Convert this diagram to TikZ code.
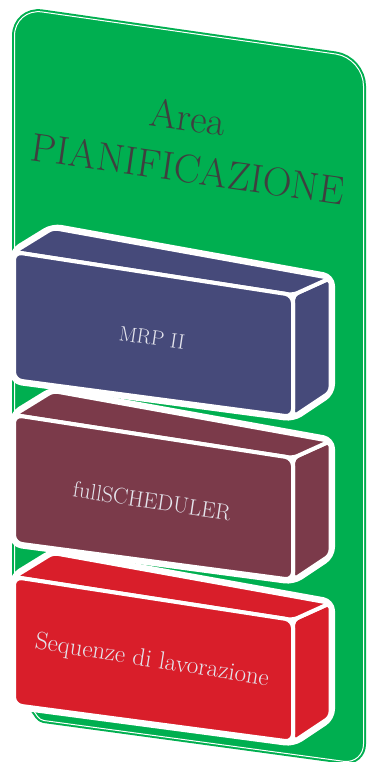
\documentclass[tikz,border=0pt]{standalone}
\definecolor{pgreen}{HTML}{00AF50}
\definecolor{pblue}{HTML}{464A7A}
\definecolor{pmaroon}{HTML}{7B3A4A}
\definecolor{pred}{HTML}{D91E2A}
\definecolor{ptext}{HTML}{3F3F3F}
\definecolor{plabel}{HTML}{E4E4EC}
\tikzset{
  blockface/.style={line width=4pt, draw=white, rounded corners=5pt, line join=round},
  blockhalo/.style={line width=9pt, draw=white, fill=white, rounded corners=8pt, line join=round},
  titletext/.style={text=ptext, inner sep=0pt},
  blocktext/.style={text=plabel, inner sep=0pt}
}
\newcommand\drawblock[2]{%
  \path[blockhalo] (14,#1) -- (53,#1-24) -- (330.5,#1+26) -- (330.5,#1+140) -- (293,#1+165) -- (14,#1+128) -- cycle;
  \path[blockface, fill=#2] (293,#1+43) -- (330.5,#1+26) -- (330.5,#1+140) -- (293,#1+165) -- cycle;
  \path[blockface, fill=#2] (14,#1) -- (53,#1-24) -- (330.5,#1+26) -- (293,#1+43) -- cycle;
  \path[blockface, fill=#2, rounded corners=8pt] (14,#1) -- (293,#1+43) -- (293,#1+165) -- (14,#1+128) -- cycle;
}
\def\panelpath{(14.5,300) [rounded corners=28pt] -- (14.5,8) -- (363.5,58) -- (363.5,300) [rounded corners=20pt] -- (363.5,764) -- (200,741.76) [rounded corners=4pt] -- (40,720) -- (30,705.5) -- (14.5,690) -- (14.5,500) -- cycle}
\begin{document}
\begin{tikzpicture}[x=1pt,y=-1pt]
\useasboundingbox (0,0) rectangle (368,762);
\path[fill=pgreen, draw=pgreen, line width=5pt, line join=round] \panelpath;
\draw[white, line width=1pt] \panelpath;
\node[titletext, rotate=-8, font=\fontsize{40}{40}\selectfont] (area) at (188,117) {Area};
\node[titletext, rotate=-8.2, font=\fontsize{40}{40}\selectfont] (pian) at (188,169) {PIANIFICAZIONE};
\drawblock{577}{pred}
\drawblock{415}{pmaroon}
\drawblock{252}{pblue}
\node[blocktext, rotate=-8.5, font=\fontsize{21}{21}\selectfont] (mrp) at (152,338) {MRP II};
\node[blocktext, rotate=-8.5, font=\fontsize{22.5}{22.5}\selectfont] (full) at (152,501) {fullSCHEDULER};
\node[blocktext, rotate=-9, font=\fontsize{25}{25}\selectfont] (seq) at (152,661) {Sequenze di lavorazione};
\end{tikzpicture}
\end{document}
